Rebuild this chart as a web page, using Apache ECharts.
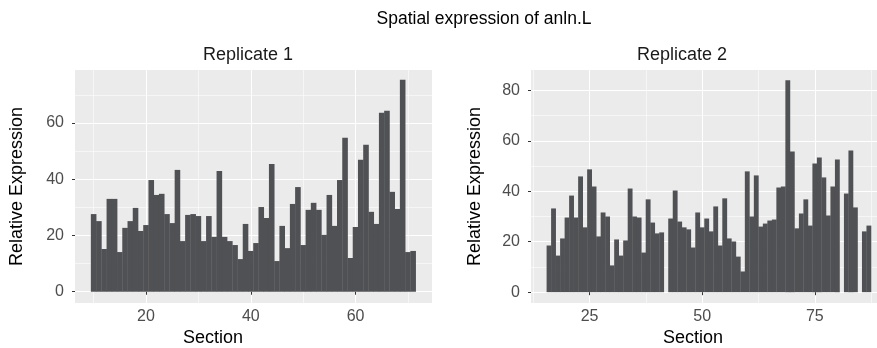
<!DOCTYPE html>
<html>
<head>
<meta charset="utf-8">
<script src="https://cdn.jsdelivr.net/npm/echarts@6/dist/echarts.min.js"></script>
<style>
  html, body { margin: 0; padding: 0; background: #fff; }
  #chart { width: 877px; height: 348px; }
</style>
</head>
<body>
<div id="chart"></div>
<script>
// Replicate 1
const rep1Sections = [10, 11, 12, 13, 14, 15, 16, 17, 18, 19, 20, 21, 22, 23, 24, 25, 26, 27, 28, 29,
  30, 31, 32, 33, 34, 35, 36, 37, 38, 39, 40, 41, 42, 43, 44, 45, 46, 47, 48, 49,
  50, 51, 52, 53, 54, 55, 56, 57, 58, 59, 60, 61, 62, 63, 64, 65, 66, 67, 68, 69, 70, 71];
const rep1Values = [27.6, 25.1, 15.2, 33.0, 33.0, 14.1, 22.7, 25.1, 29.8, 21.6, 23.7, 39.7, 34.4, 34.8, 27.6, 24.4, 43.3, 18.0, 27.3, 27.6,
  26.9, 18.0, 26.9, 19.5, 42.9, 19.5, 18.0, 16.6, 11.6, 24.1, 14.5, 17.3, 30.1, 26.2, 45.4, 10.9, 23.4, 15.5, 31.2, 37.2,
  16.6, 29.1, 31.6, 29.1, 20.2, 34.4, 23.4, 39.7, 54.7, 12.0, 23.0, 46.9, 52.2, 28.4, 24.1, 63.6, 64.3, 35.5, 29.4, 75.3, 14.1, 14.5];

// Replicate 2 (sections 42, 81 and 85 have no bar)
const rep2Sections = [16, 17, 18, 19, 20, 21, 22, 23, 24, 25, 26, 27, 28, 29, 30, 31, 32, 33, 34, 35, 36, 37, 38, 39, 40, 41,
  43, 44, 45, 46, 47, 48, 49, 50, 51, 52, 53, 54, 55, 56, 57, 58, 59, 60, 61, 62, 63, 64, 65, 66, 67, 68, 69, 70,
  71, 72, 73, 74, 75, 76, 77, 78, 79, 80, 82, 83, 84, 86, 87];
const rep2Values = [18.5, 33.2, 14.5, 21.3, 29.6, 38.3, 29.6, 45.9, 25.7, 48.7, 41.9, 22.1, 31.6, 30.0, 10.6, 20.9, 14.5, 20.5, 41.1, 30.0, 29.6, 15.7, 36.8, 27.6, 23.3, 23.7,
  29.2, 40.3, 28.0, 25.7, 24.9, 17.7, 31.6, 25.7, 29.2, 24.1, 34.0, 18.5, 37.2, 21.3, 20.1, 14.1, 8.2, 47.9, 30.0, 46.3, 26.0, 27.2, 28.4, 28.8, 41.5, 41.9, 84.0, 55.8,
  25.3, 31.2, 36.8, 26.4, 51.0, 53.4, 45.5, 30.4, 41.9, 52.6, 39.1, 56.2, 33.6, 24.1, 26.4];

// tick labels and grid lines
const rep1XTicks = [20, 40, 60];
const rep1XMinor = [10, 30, 50, 70];
const rep1YTicks = [0, 20, 40, 60];
const rep1YMinor = [10, 30, 50, 70];
const rep2XTicks = [25, 50, 75];
const rep2XMinor = [12.5, 37.5, 62.5, 87.5];
const rep2YTicks = [0, 20, 40, 60, 80];
const rep2YMinor = [10, 30, 50, 70];

const FONT = 'Liberation Sans';
const barColor = '#505154';

function majorAxis(gridIndex, min, max, ticks, isY, extra) {
  return Object.assign({
    type: 'value',
    gridIndex: gridIndex,
    min: min,
    max: max,
    axisLine: { show: false },
    axisTick: { show: true, length: 3, customValues: ticks, lineStyle: { color: '#333333', width: 1 } },
    axisLabel: {
      customValues: ticks,
      margin: isY ? 11 : 6,
      color: '#4D4D4D',
      fontSize: 16,
      fontFamily: FONT
    },
    splitLine: { show: true, lineStyle: { color: '#FFFFFF', width: 1.1 } }
  }, extra || {});
}

function minorAxis(gridIndex, min, max, ticks) {
  return {
    type: 'value',
    gridIndex: gridIndex,
    min: min,
    max: max,
    axisLine: { show: false },
    axisTick: { show: false, customValues: ticks },
    axisLabel: { show: false, customValues: ticks },
    splitLine: { show: true, lineStyle: { color: '#FFFFFF', width: 0.55 } }
  };
}

const myChart = echarts.init(document.getElementById('chart'));
const option = {
  animation: false,
  backgroundColor: '#FFFFFF',
  title: [
    { text: 'Spatial expression of anln.L', left: 484, top: 10, textAlign: 'center', padding: 0,
      textStyle: { fontSize: 17.5, fontWeight: 'normal', color: '#000', fontFamily: FONT } },
    { text: 'Replicate 1', left: 248, top: 46, textAlign: 'center', padding: 0,
      textStyle: { fontSize: 18, fontWeight: 'normal', color: '#1A1A1A', fontFamily: FONT } },
    { text: 'Replicate 2', left: 682, top: 46, textAlign: 'center', padding: 0,
      textStyle: { fontSize: 18, fontWeight: 'normal', color: '#1A1A1A', fontFamily: FONT } },
    { text: 'Section', left: 213, top: 329, textAlign: 'center', padding: 0,
      textStyle: { fontSize: 18, fontWeight: 'normal', color: '#000', fontFamily: FONT } },
    { text: 'Section', left: 693, top: 329, textAlign: 'center', padding: 0,
      textStyle: { fontSize: 18, fontWeight: 'normal', color: '#000', fontFamily: FONT } }
  ],
  grid: [
    { left: 75, top: 70, width: 357, height: 233, show: true, backgroundColor: '#EBEBEB', borderWidth: 0, outerBoundsMode: 'none' },
    { left: 531, top: 70, width: 346, height: 233, show: true, backgroundColor: '#EBEBEB', borderWidth: 0, outerBoundsMode: 'none' }
  ],
  xAxis: [
    majorAxis(0, 6.44, 74.6, rep1XTicks, false),
    minorAxis(0, 6.44, 74.6, rep1XMinor),
    majorAxis(1, 12.0, 88.8, rep2XTicks, false),
    minorAxis(1, 12.0, 88.8, rep2XMinor)
  ],
  yAxis: [
    majorAxis(0, -4.0, 78.8, rep1YTicks, true, {
      name: 'Relative Expression', nameLocation: 'middle', nameGap: 49,
      nameTextStyle: { fontSize: 18, color: '#000', fontFamily: FONT }
    }),
    minorAxis(0, -4.0, 78.8, rep1YMinor),
    majorAxis(1, -4.3, 88.1, rep2YTicks, true, {
      name: 'Relative Expression', nameLocation: 'middle', nameGap: 47,
      nameTextStyle: { fontSize: 18, color: '#000', fontFamily: FONT }
    }),
    minorAxis(1, -4.3, 88.1, rep2YMinor)
  ],
  series: [
    {
      name: 'Replicate 1',
      type: 'bar',
      xAxisIndex: 0,
      yAxisIndex: 0,
      barWidth: 5.6,
      itemStyle: { color: barColor },
      data: rep1Sections.map((s, i) => [s, rep1Values[i]])
    },
    {
      name: 'Replicate 2',
      type: 'bar',
      xAxisIndex: 2,
      yAxisIndex: 2,
      barWidth: 4.85,
      itemStyle: { color: barColor },
      data: rep2Sections.map((s, i) => [s, rep2Values[i]])
    }
  ]
};

myChart.setOption(option);
window.addEventListener('resize', function () {
  myChart.resize();
});
</script>
</body>
</html>
